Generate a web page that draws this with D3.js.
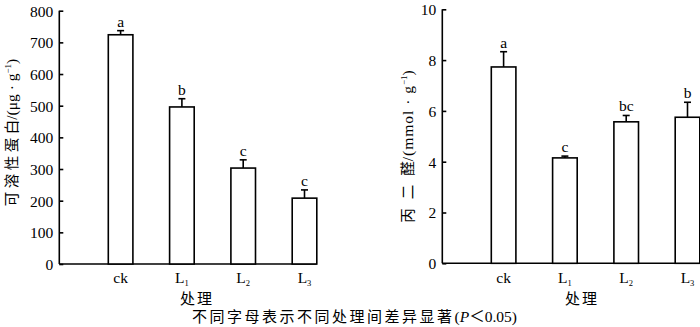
<!DOCTYPE html>
<html><head><meta charset="utf-8">
<script src="https://cdn.jsdelivr.net/npm/d3@7"></script>
<style>
body{margin:0;background:#fff;}
svg text{font-family:"Liberation Serif","Noto Sans CJK SC",serif;fill:#000;}
svg text .cjk, svg text.cjk{font-family:"Noto Sans CJK SC","Liberation Serif",sans-serif;}
</style></head>
<body><svg id="c" width="700" height="327"></svg>
<script>
const categories = ["ck","L1","L2","L3"];
const proteinValues = [724, 496, 303, 208];
const proteinErrors = [13, 26, 26, 26];
const proteinLetters = ["a","b","c","c"];
const proteinTicks = [0,100,200,300,400,500,600,700,800];
const mdaValues = [7.73, 4.15, 5.57, 5.75];
const mdaErrors = [0.60, 0.07, 0.25, 0.59];
const mdaLetters = ["a","c","bc","b"];
const mdaTicks = [0,2,4,6,8,10];

const svg = d3.select("#c");
const SW = 1.6;
const FS = 15.5;

function panel(opt){
  const g = svg.append("g");
  const y = d3.scaleLinear().domain(opt.domain).range([opt.y0, opt.y1]);
  const x = d3.scalePoint().domain(["", ...categories]).range([opt.x0, opt.x0 + 4*61.3]);
  const bw = 24.6;
  const ax = g.append("g").attr("transform",`translate(${opt.x0},0)`)
    .call(d3.axisLeft(y).tickValues(opt.ticks).tickSizeInner(-4).tickSizeOuter(0).tickPadding(6).tickFormat(d3.format("d")));
  ax.attr("font-family",null);
  ax.select(".domain").remove();
  ax.selectAll("line").attr("stroke","#000").attr("stroke-width",SW);
  ax.selectAll("text").attr("font-size",FS).style("font-family","Liberation Serif").attr("fill","#000").attr("dy","0.35em");
  g.append("line").attr("x1",opt.x0).attr("x2",opt.x0).attr("y1",y(opt.domain[0])).attr("y2",y(opt.domain[1]))
    .attr("stroke","#000").attr("stroke-width",SW);
  g.append("line").attr("x1",opt.x0).attr("x2",opt.xEnd).attr("y1",y(0)).attr("y2",y(0))
    .attr("stroke","#000").attr("stroke-width",SW);
  categories.forEach((c,i)=>{
    const cx = x(c), v = opt.values[i], e = opt.errors[i];
    g.append("line").attr("x1",cx).attr("x2",cx).attr("y1",y(v)).attr("y2",y(v+e)).attr("stroke","#000").attr("stroke-width",SW);
    g.append("line").attr("x1",cx-3.5).attr("x2",cx+3.5).attr("y1",y(v+e)).attr("y2",y(v+e)).attr("stroke","#000").attr("stroke-width",SW);
    g.append("rect").attr("x",cx-bw/2).attr("y",y(v)).attr("width",bw).attr("height",y(0)-y(v))
      .attr("fill","#fff").attr("stroke","#000").attr("stroke-width",SW);
    g.append("text").attr("x",cx).attr("y",y(v+e)-4).attr("text-anchor","middle").attr("font-size",FS).text(opt.letters[i]);
    const t = g.append("text").attr("x",cx).attr("y",282.5).attr("text-anchor","middle").attr("font-size",FS);
    if(c==="ck") t.text(c);
    else {
      t.append("tspan").text(c[0]);
      t.append("tspan").attr("font-size",8.5).attr("dy",3).text(c.slice(1));
    }
  });
  g.append("text").attr("class","cjk").attr("x",opt.xTitle).attr("y",304).attr("text-anchor","middle")
    .attr("font-size",15).attr("letter-spacing",2).text("处理");
  const yt = g.append("text").attr("transform",`translate(${opt.yTitleX},${opt.yTitleY}) rotate(-90)`)
    .attr("text-anchor","middle").attr("font-size",FS);
  const chars = Array.from(opt.yTitle);
  yt.append("tspan").attr("class","cjk").attr("font-size",14.5).attr("letter-spacing",opt.cjkSpacing).text(chars.slice(0,-1).join(""));
  yt.append("tspan").attr("class","cjk").attr("font-size",14.5).text(chars[chars.length-1]);
  yt.append("tspan").attr("letter-spacing",opt.unitSpacing).text(opt.yUnit);
  yt.append("tspan").attr("font-size",9).attr("dy",-6).text("−1");
  yt.append("tspan").attr("dy",6).text(")");
}

panel({domain:[0,800], y0:264, y1:10.7, x0:59.3, xEnd:316.7, ticks:proteinTicks,
  values:proteinValues, errors:proteinErrors, letters:proteinLetters,
  xTitle:197, yTitle:"可溶性蛋白", yUnit:"/(μg · g", yTitleX:17, yTitleY:132.5, cjkSpacing:3.5, unitSpacing:0});
panel({domain:[0,10], y0:263.3, y1:9.3, x0:442.3, xEnd:702, ticks:mdaTicks,
  values:mdaValues, errors:mdaErrors, letters:mdaLetters,
  xTitle:582, yTitle:"丙二醛", yUnit:"/(mmol · g", yTitleX:413, yTitleY:146.5, cjkSpacing:9, unitSpacing:1});

const cap = svg.append("text").attr("x",192).attr("y",322).attr("font-size",15.5);
cap.append("tspan").attr("class","cjk").attr("font-size",15).attr("letter-spacing",2.5).text("不同字母表示不同处理间差异显著");
cap.append("tspan").text("(");
cap.append("tspan").attr("font-style","italic").text("P");
cap.append("tspan").attr("class","cjk").text("＜");
cap.append("tspan").text("0.05)");
</script></body></html>
